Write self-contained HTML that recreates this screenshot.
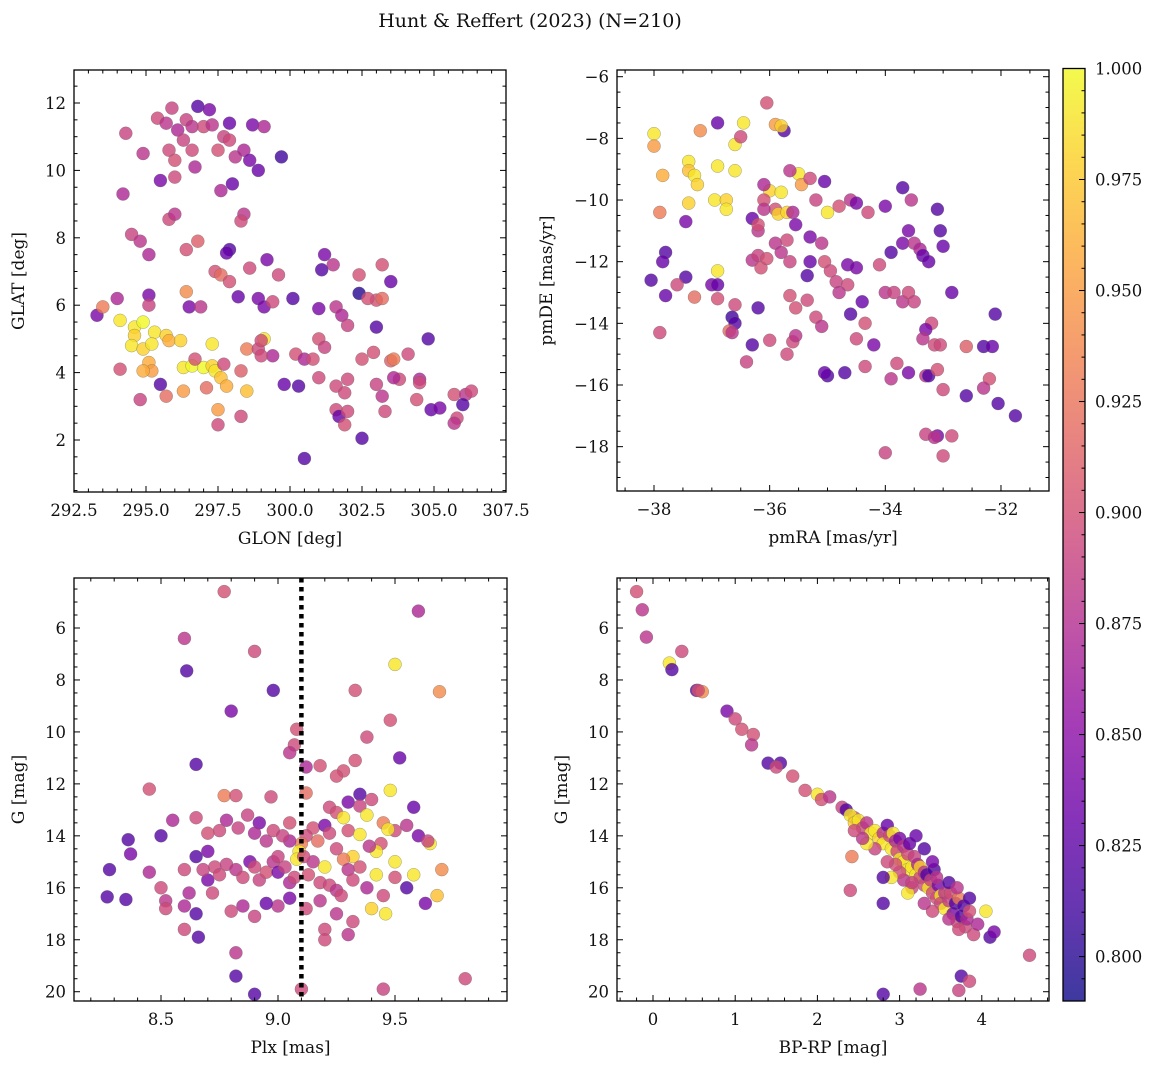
<!DOCTYPE html>
<html><head><meta charset="utf-8"><style>
html,body{margin:0;padding:0;background:#fff}
svg{display:block;font-family:"DejaVu Serif","Liberation Serif",serif}
</style></head><body>
<svg id="fig" width="1160" height="1068" viewBox="0 0 1160 1068" xmlns="http://www.w3.org/2000/svg">
<text x="530" y="27" font-size="19" text-anchor="middle" fill="#111">Hunt &amp; Reffert (2023) (N=210)</text>
</svg>
<script>
const p1Points=[[295.4,11.55,.895],[295.9,11.85,.89],[295.7,11.4,.88],[296.1,11.2,.87],[296.4,11.5,.89],[296.8,11.9,.82],[297.2,11.8,.84],[296.6,11.3,.88],[297.0,11.3,.895],[297.3,11.35,.88],[297.9,11.4,.83],[298.7,11.35,.84],[299.1,11.3,.87],[294.3,11.1,.89],[294.9,10.5,.88],[294.2,9.3,.87],[295.5,9.7,.84],[295.8,10.6,.895],[296.0,10.3,.9],[296.0,9.8,.895],[296.3,10.9,.89],[296.6,10.6,.895],[296.7,10.1,.87],[297.5,10.6,.9],[297.7,11.0,.89],[297.9,10.9,.895],[298.1,10.4,.88],[298.4,10.6,.87],[298.6,10.3,.84],[298.9,10.0,.83],[299.7,10.4,.81],[298.0,9.6,.83],[297.6,9.4,.87],[295.8,8.55,.895],[296.0,8.7,.88],[298.4,8.7,.88],[298.3,8.5,.895],[294.5,8.1,.89],[294.8,7.9,.88],[295.1,7.5,.87],[296.4,7.65,.9],[296.8,7.9,.91],[297.9,7.65,.82],[297.8,7.55,.83],[299.2,7.35,.84],[301.2,7.5,.84],[301.5,7.2,.88],[301.1,7.05,.82],[302.4,6.9,.9],[303.2,7.2,.9],[303.5,6.7,.83],[298.6,7.1,.895],[297.4,7.0,.9],[297.6,6.9,.92],[297.9,6.7,.9],[296.4,6.4,.94],[296.5,5.95,.84],[296.9,5.95,.88],[298.2,6.25,.83],[298.9,6.2,.84],[299.1,5.95,.84],[299.4,6.1,.895],[300.1,6.2,.82],[299.6,6.9,.895],[301.0,5.9,.84],[301.6,5.95,.88],[302.4,6.35,.8],[303.0,6.15,.9],[303.2,6.2,.92],[301.8,5.7,.87],[303.0,5.35,.82],[302.0,5.4,.89],[295.1,6.3,.84],[295.1,6.0,.89],[294.0,6.2,.87],[293.3,5.7,.84],[293.5,5.95,.93],[294.1,5.55,.99],[294.6,5.35,.99],[294.6,5.1,.98],[294.9,5.5,1.0],[295.3,5.2,.99],[295.7,5.1,.98],[295.8,4.95,.96],[296.2,4.95,.98],[294.5,4.8,.99],[294.9,4.7,.98],[295.2,4.85,.99],[295.1,4.3,.96],[295.2,4.05,.95],[294.9,4.05,.96],[296.3,4.15,.99],[296.6,4.2,1.0],[297.0,4.15,1.0],[297.3,4.2,.98],[297.4,4.05,.99],[297.6,3.85,.97],[297.8,3.6,.96],[297.3,4.85,.99],[296.7,4.4,.9],[296.3,3.45,.95],[297.1,3.55,.92],[297.7,4.25,.895],[298.3,4.05,.91],[298.5,4.7,.93],[298.9,4.7,.895],[299.1,5.0,.99],[299.0,4.95,.895],[299.4,4.5,.87],[299.0,4.5,.895],[298.5,3.45,.97],[297.5,2.9,.95],[297.5,2.45,.895],[298.3,2.7,.895],[295.5,3.65,.82],[295.7,3.3,.92],[294.1,4.1,.9],[294.8,3.2,.89],[299.8,3.65,.83],[300.2,4.55,.9],[300.5,4.4,.87],[300.8,4.4,.9],[301.0,5.0,.9],[301.2,4.75,.89],[300.3,3.6,.82],[301.0,3.85,.895],[301.6,3.6,.895],[302.0,3.8,.895],[301.9,3.4,.895],[301.6,2.9,.895],[301.7,2.7,.83],[302.0,2.85,.895],[301.9,2.45,.9],[302.5,2.05,.82],[303.0,3.65,.89],[302.9,4.6,.9],[302.5,4.4,.9],[303.2,3.3,.88],[303.3,2.85,.895],[303.5,4.35,.91],[303.6,4.4,.93],[303.8,3.8,.895],[303.6,3.85,.87],[304.1,4.55,.895],[304.5,3.8,.87],[304.4,3.2,.9],[304.5,3.7,.895],[304.9,2.9,.83],[305.2,2.95,.84],[304.8,5.0,.82],[305.7,3.35,.9],[305.8,2.65,.895],[305.7,2.5,.88],[306.1,3.35,.88],[306.3,3.45,.895],[306.0,3.05,.82],[300.5,1.45,.82],[302.7,6.2,.9]];
const p2Points=[[-38,-7.85,.99],[-38,-8.25,.95],[-37.85,-9.2,.96],[-37.4,-8.75,.99],[-37.4,-9.05,.97],[-37.3,-9.2,.99],[-37.25,-9.5,.98],[-37.4,-10.1,.98],[-37.2,-7.75,.94],[-36.9,-7.5,.83],[-36.6,-8.2,.99],[-36.45,-7.5,.99],[-36.5,-7.95,.895],[-36.05,-6.85,.9],[-35.9,-7.55,.95],[-35.75,-7.75,.82],[-35.8,-7.6,.98],[-35.5,-9.15,.99],[-35.65,-9.05,.88],[-35.45,-9.5,.95],[-35.3,-9.3,.895],[-35.05,-9.4,.83],[-36.9,-8.9,.99],[-36.95,-10.0,.99],[-36.75,-10.0,.98],[-36.75,-10.3,.99],[-36.6,-9.05,.99],[-36.0,-9.7,.98],[-35.8,-9.75,.99],[-35.9,-10.3,.9],[-35.85,-10.45,.98],[-35.7,-10.4,.98],[-35.6,-10.4,.87],[-36.1,-9.5,.87],[-36.1,-10.0,.9],[-36.1,-10.3,.88],[-35.2,-10.0,.89],[-35.0,-10.4,.99],[-34.8,-10.2,.9],[-34.6,-10.0,.88],[-34.5,-10.1,.84],[-34.3,-10.4,.895],[-34.0,-10.2,.84],[-33.7,-9.6,.82],[-33.55,-10.0,.88],[-33.1,-10.3,.82],[-33.05,-11.0,.82],[-33.0,-11.5,.83],[-37.9,-10.4,.93],[-37.45,-10.7,.84],[-37.8,-11.7,.82],[-37.85,-12.0,.83],[-38.05,-12.6,.82],[-37.45,-12.5,.82],[-37.6,-12.75,.895],[-37.0,-12.75,.84],[-36.9,-12.3,.99],[-37.8,-13.1,.83],[-37.3,-13.15,.92],[-36.9,-13.2,.9],[-36.6,-13.4,.895],[-36.65,-13.8,.81],[-36.6,-14.0,.82],[-36.7,-14.25,.92],[-36.65,-14.3,.88],[-36.3,-14.7,.82],[-36.4,-15.25,.89],[-37.9,-14.3,.895],[-36.3,-11.95,.88],[-36.2,-11.8,.89],[-36.15,-12.2,.9],[-36.05,-11.9,.9],[-36.2,-11.0,.88],[-36.3,-10.6,.83],[-36.2,-10.8,.9],[-35.9,-11.4,.88],[-35.8,-11.7,.88],[-35.65,-12.0,.89],[-35.7,-11.3,.895],[-35.55,-10.8,.84],[-35.3,-11.2,.84],[-35.1,-11.4,.88],[-35.3,-12.0,.83],[-35.35,-12.45,.82],[-35.05,-12.0,.9],[-34.95,-12.3,.895],[-34.85,-12.65,.89],[-34.65,-12.75,.895],[-34.65,-12.1,.84],[-34.5,-12.2,.84],[-34.1,-12.1,.895],[-33.9,-11.7,.82],[-33.7,-11.4,.84],[-33.6,-11.0,.84],[-33.5,-11.4,.88],[-33.4,-11.6,.87],[-33.35,-11.8,.83],[-33.25,-12.0,.83],[-35.65,-13.1,.9],[-35.35,-13.25,.895],[-35.2,-13.8,.895],[-35.55,-13.5,.9],[-35.6,-14.6,.895],[-35.55,-14.4,.88],[-35.1,-14.1,.88],[-35.0,-15.7,.82],[-35.05,-15.6,.83],[-34.7,-15.6,.82],[-34.35,-15.4,.895],[-33.8,-15.3,.895],[-33.9,-15.8,.88],[-33.6,-15.6,.84],[-33.3,-15.7,.88],[-33.25,-15.7,.82],[-34.0,-13.0,.88],[-33.85,-13.0,.89],[-33.7,-13.3,.88],[-33.6,-13.0,.895],[-33.5,-13.3,.89],[-34.6,-13.7,.82],[-34.4,-13.3,.83],[-34.8,-13.0,.88],[-33.2,-14.0,.895],[-33.15,-14.7,.895],[-33.3,-14.2,.84],[-33.35,-14.5,.88],[-33.05,-14.7,.895],[-33.1,-15.5,.9],[-33.0,-16.15,.895],[-32.85,-13.0,.83],[-32.6,-14.75,.91],[-32.6,-16.35,.82],[-32.3,-14.75,.82],[-32.2,-15.8,.9],[-32.3,-16.1,.88],[-32.15,-14.75,.83],[-32.1,-13.7,.82],[-32.05,-16.6,.82],[-31.75,-17.0,.82],[-33.3,-17.6,.89],[-33.1,-17.65,.84],[-33.15,-17.7,.88],[-32.85,-17.65,.895],[-33.0,-18.3,.895],[-34.0,-18.2,.89],[-34.35,-14.0,.9],[-34.5,-14.5,.895],[-34.2,-14.7,.84],[-35.7,-15.0,.895],[-36.0,-14.55,.895],[-36.2,-13.5,.82],[-36.9,-12.75,.83]];
const p3Points=[[8.77,4.6,.9],[8.6,6.4,.88],[9.6,5.35,.87],[8.61,7.65,.82],[8.9,6.9,.895],[8.98,8.4,.82],[9.5,7.4,.99],[9.69,8.45,.94],[9.33,8.4,.9],[8.8,9.2,.84],[9.08,9.9,.9],[9.48,9.55,.9],[9.07,10.5,.895],[9.38,10.2,.895],[9.05,10.8,.88],[9.33,11.1,.9],[9.52,11.0,.83],[8.65,11.25,.82],[9.12,11.35,.87],[9.18,11.3,.9],[9.28,11.5,.9],[9.25,11.7,.9],[8.45,12.2,.9],[8.97,12.5,.895],[8.77,12.45,.93],[8.82,12.45,.9],[9.48,12.25,.99],[9.35,12.4,.82],[9.12,12.35,.92],[9.4,12.6,.895],[9.3,12.7,.84],[9.22,12.9,.895],[9.35,12.85,.89],[9.58,12.9,.83],[9.25,13.1,.9],[9.28,13.3,.99],[9.38,13.2,.99],[8.55,13.4,.87],[8.65,13.3,.895],[8.78,13.4,.87],[8.87,13.2,.89],[8.92,13.5,.84],[8.98,13.8,.895],[9.05,13.5,.9],[9.15,13.7,.9],[9.2,13.6,.84],[9.22,13.9,.895],[9.3,13.8,.9],[9.35,13.95,.99],[9.45,13.5,.93],[9.5,13.8,.895],[9.55,13.6,.88],[9.6,14.0,.84],[9.65,14.3,.99],[9.64,14.2,.89],[9.47,13.75,.99],[9.44,14.3,.9],[9.42,14.6,.99],[9.39,14.4,.88],[9.32,14.8,.98],[9.28,14.9,.93],[9.25,14.5,.895],[9.17,14.2,.92],[9.12,14.0,.895],[9.1,14.3,.93],[9.09,14.6,.99],[9.08,14.9,.99],[9.05,14.2,.87],[9.02,14.0,.89],[8.95,14.2,.88],[8.9,13.9,.87],[8.83,13.7,.89],[8.75,13.8,.895],[8.7,13.9,.9],[8.7,14.6,.84],[8.65,14.8,.82],[8.6,15.3,.895],[8.5,14.0,.82],[8.36,14.15,.82],[8.37,14.7,.84],[8.28,15.3,.82],[8.45,15.4,.87],[8.5,16.0,.895],[8.52,16.5,.88],[8.52,16.8,.895],[8.35,16.45,.82],[8.27,16.35,.82],[8.6,16.7,.87],[8.62,16.2,.87],[8.7,15.7,.84],[8.65,17.0,.82],[8.6,17.6,.895],[8.66,17.9,.82],[8.73,15.2,.895],[8.75,15.5,.895],[8.78,15.1,.89],[8.82,15.3,.88],[8.85,15.6,.895],[8.88,15.0,.84],[8.9,15.2,.895],[8.92,15.7,.89],[8.95,15.4,.9],[8.98,15.0,.88],[9.0,15.4,.84],[9.03,15.2,.89],[9.05,15.8,.87],[9.07,15.6,.895],[9.13,15.5,.9],[9.15,15.0,.88],[9.18,15.8,.895],[9.2,15.2,.99],[9.22,15.9,.895],[9.25,16.1,.88],[9.27,16.3,.895],[9.3,15.3,.88],[9.32,15.7,.895],[9.35,15.2,.9],[9.38,16.0,.87],[9.42,15.5,.99],[9.45,16.3,.895],[9.5,15.0,.99],[9.5,15.6,.9],[9.55,16.0,.82],[9.58,15.5,.99],[9.63,16.6,.84],[9.68,16.3,.97],[9.7,15.3,.94],[9.46,17.0,.99],[9.4,16.8,.98],[9.32,17.3,.895],[9.25,17.0,.88],[9.18,16.5,.88],[9.12,16.8,.895],[9.05,16.4,.84],[9.0,16.7,.88],[8.95,16.6,.83],[8.85,16.7,.87],[8.8,16.9,.895],[8.9,17.1,.89],[9.2,17.6,.895],[9.3,17.8,.88],[9.2,18.0,.895],[8.82,18.5,.88],[8.82,19.4,.82],[8.9,20.1,.82],[9.1,19.9,.895],[9.45,19.9,.89],[9.8,19.5,.895],[9.0,14.8,.89],[9.11,14.8,.895],[8.68,15.3,.89],[8.72,16.2,.895]];
const p4Points=[[-0.2,4.6,.9],[-0.13,5.3,.88],[-0.08,6.35,.88],[0.2,7.35,.99],[0.35,6.9,.895],[0.23,7.6,.82],[0.53,8.4,.82],[0.6,8.45,.94],[0.55,8.4,.9],[0.9,9.2,.84],[1.0,9.5,.895],[1.08,9.9,.9],[1.22,10.1,.9],[1.2,10.5,.88],[1.4,11.2,.82],[1.55,11.2,.82],[1.5,11.35,.895],[1.7,11.7,.9],[1.85,12.25,.9],[2.0,12.4,.99],[2.05,12.6,.9],[2.15,12.5,.88],[2.3,12.9,.89],[2.35,13.0,.82],[2.45,13.3,.9],[2.4,13.2,.99],[2.45,13.5,.98],[2.5,13.4,.99],[2.55,13.7,.895],[2.6,13.5,.88],[2.65,13.9,.99],[2.7,13.8,.99],[2.75,14.1,.98],[2.8,13.9,.88],[2.8,14.3,.99],[2.85,13.6,.83],[2.88,14.0,.895],[2.9,14.5,.99],[2.92,13.9,.99],[2.95,14.2,.87],[2.97,14.6,.895],[3.0,14.9,.99],[3.0,14.1,.84],[3.05,14.4,.88],[3.05,15.0,.99],[3.1,14.7,.895],[3.1,15.3,.99],[3.12,14.3,.83],[3.15,15.2,.99],[3.18,14.8,.89],[3.2,15.5,.99],[3.22,15.1,.87],[3.25,15.6,.895],[3.25,15.2,.98],[3.3,15.4,.88],[3.3,15.9,.895],[3.33,15.5,.82],[3.35,16.0,.99],[3.38,15.7,.89],[3.4,16.2,.895],[3.42,15.3,.82],[3.45,16.4,.9],[3.47,15.9,.84],[3.5,16.3,.99],[3.5,16.6,.895],[3.55,16.2,.88],[3.55,16.8,.99],[3.6,16.5,.89],[3.62,16.2,.9],[3.65,17.0,.84],[3.68,16.6,.82],[3.7,17.3,.895],[3.72,16.4,.93],[3.75,17.1,.82],[3.78,16.7,.82],[3.8,17.5,.895],[3.82,17.2,.87],[3.85,16.4,.82],[3.9,17.8,.895],[3.95,17.4,.87],[3.72,17.6,.895],[3.6,17.2,.88],[3.4,16.9,.895],[3.3,16.6,.88],[3.15,16.0,.895],[3.05,15.7,.88],[3.0,15.4,.895],[2.9,15.6,.99],[2.8,15.6,.82],[2.95,15.1,.9],[2.85,15.0,.895],[2.7,14.5,.89],[2.6,14.3,.99],[2.55,14.1,.88],[2.45,13.8,.895],[2.42,14.8,.93],[2.4,16.1,.895],[2.8,16.6,.82],[3.2,14.0,.83],[3.3,14.5,.82],[3.4,15.0,.84],[3.45,15.6,.88],[3.6,15.8,.82],[3.7,16.0,.88],[3.85,16.9,.9],[4.05,16.9,.99],[4.1,17.9,.82],[4.15,17.7,.84],[4.58,18.6,.895],[3.75,19.4,.82],[3.85,19.6,.895],[3.72,19.95,.89],[3.25,19.9,.88],[2.8,20.1,.82],[3.1,16.2,.99],[3.15,15.8,.89]];
const p1XTicks=[292.5,295.0,297.5,300.0,302.5,305.0,307.5];
const p1YTicks=[2,4,6,8,10,12];
const p2XTicks=[-38,-36,-34,-32];
const p2YTicks=[-6,-8,-10,-12,-14,-16,-18];
const p3XTicks=[8.5,9.0,9.5];
const gYTicks=[6,8,10,12,14,16,18,20];
const p4XTicks=[0,1,2,3,4];
const cbarTicks=[0.800,0.825,0.850,0.875,0.900,0.925,0.950,0.975,1.000];
const plxCut=[9.1];
const cmin=0.79,cmax=1.0;

const NS="http://www.w3.org/2000/svg";
const fig=document.getElementById('fig');
const plasma=[[13,8,135],[65,4,157],[106,0,168],[143,13,164],[177,42,144],[204,71,120],[225,100,98],[242,132,75],[252,166,54],[252,206,37],[240,249,33]];
function cmap(v){let t=(v-cmin)/(cmax-cmin);t=Math.max(0,Math.min(1,t))*10;const i=Math.min(9,Math.floor(t)),f=t-i;const a=plasma[i],b=plasma[i+1];return 'rgb('+a.map((x,k)=>Math.round(x+(b[k]-x)*f)).join(',')+')';}
function mk(tag,attrs,parent){const e=document.createElementNS(NS,tag);for(const k in attrs)e.setAttribute(k,attrs[k]);(parent||fig).appendChild(e);return e;}
function fmt(v,d){return (v<0?'\u2212':'')+Math.abs(v).toFixed(d);}

function panel(o){
  const g=mk('g',{});
  
  
  const sx=v=>o.L+(v-o.x0)/(o.x1-o.x0)*(o.R-o.L);
  const sy=v=>o.T+(v-o.y0)/(o.y1-o.y0)*(o.B-o.T);
  const clip='clip-'+o.name;
  const cp=mk('clipPath',{id:clip},g);mk('rect',{x:o.L,y:o.T,width:o.R-o.L,height:o.B-o.T},cp);
  const pg=mk('g',{'clip-path':'url(#'+clip+')'},g);
  
  
  for(const p of o.pts){
    const c=mk('circle',{cx:sx(p[0]).toFixed(1),cy:sy(p[1]).toFixed(1),r:6.5,fill:cmap(p[2]),'fill-opacity':0.8,stroke:'#666','stroke-opacity':0.6,'stroke-width':0.5},pg);
    
    
  }
  if(o.vline){for(const v of o.vline){const l=mk('line',{x1:sx(v),x2:sx(v),y1:o.T,y2:o.B,stroke:'#000','stroke-width':4.5,'stroke-dasharray':'4.5,4.5'},pg);
    
    }}
  const tg=mk('g',{stroke:'#000','stroke-width':1},g);
  const lo=Math.min(o.x0,o.x1),hi=Math.max(o.x0,o.x1);
  for(let v=Math.ceil(lo/o.xmin-1e-6)*o.xmin;v<=hi+1e-9;v+=o.xmin){const x=sx(v);const maj=o.xt.some(t=>Math.abs(t-v)<1e-6);const len=maj?6:3.5;
    mk('line',{x1:x,x2:x,y1:o.B,y2:o.B-len},tg);mk('line',{x1:x,x2:x,y1:o.T,y2:o.T+len},tg);}
  const ylo=Math.min(o.y0,o.y1),yhi=Math.max(o.y0,o.y1);
  for(let v=Math.ceil(ylo/o.ymin-1e-6)*o.ymin;v<=yhi+1e-9;v+=o.ymin){const y=sy(v);const maj=o.yt.some(t=>Math.abs(t-v)<1e-6);const len=maj?6:3.5;
    mk('line',{x1:o.L,x2:o.L+len,y1:y,y2:y},tg);mk('line',{x1:o.R,x2:o.R-len,y1:y,y2:y},tg);}
  for(const t of o.xt){const e=mk('text',{x:sx(t),y:o.B+24,'font-size':16.5,'text-anchor':'middle',fill:'#111'},g);e.textContent=fmt(t,o.xd);
    
    }
  for(const t of o.yt){const e=mk('text',{x:o.L-8,y:sy(t)+6,'font-size':16.5,'text-anchor':'end',fill:'#111'},g);e.textContent=fmt(t,0);
    
    }
  mk('rect',{x:o.L,y:o.T,width:o.R-o.L,height:o.B-o.T,fill:'none',stroke:'#000','stroke-width':1.3},g);
  const xl=mk('text',{x:(o.L+o.R)/2,y:o.B+52,'font-size':17,'text-anchor':'middle',fill:'#111'},g);xl.textContent=o.xlab;
  
  
  const yx=o.ylx, yy=(o.T+o.B)/2;
  const yl=mk('text',{x:yx,y:yy,'font-size':17,'text-anchor':'middle',fill:'#111',transform:'rotate(-90 '+yx+' '+yy+')'},g);yl.textContent=o.ylab;
  
  
}
panel({name:'glon-glat-panel',L:74,R:506,T:70,B:492,x0:292.5,x1:307.5,y0:12+33/33.7,y1:12-389/33.7,pts:p1Points,xt:p1XTicks,yt:p1YTicks,xmin:0.5,ymin:0.5,xd:1,xlab:'GLON [deg]',ylab:'GLAT [deg]',ylx:24});
panel({name:'proper-motion-panel',L:617,R:1049,T:70,B:491,x0:-38-(654-617)/57.83,x1:-38+(1049-654)/57.83,y0:-6+(76.7-70)/30.83,y1:-6-(491-76.7)/30.83,pts:p2Points,xt:p2XTicks,yt:p2YTicks,xmin:0.5,ymin:0.5,xd:0,xlab:'pmRA [mas/yr]',ylab:'pmDE [mas/yr]',ylx:552});
panel({name:'parallax-magnitude-panel',L:74,R:507,T:578,B:1001,x0:8.5-(161-74)/234,x1:8.5+(507-161)/234,y0:6-(628-578)/25.98,y1:6+(1001-628)/25.98,pts:p3Points,xt:p3XTicks,yt:gYTicks,xmin:0.1,ymin:0.5,xd:1,xlab:'Plx [mas]',ylab:'G [mag]',ylx:24,vline:plxCut});
panel({name:'color-magnitude-panel',L:617,R:1049,T:578,B:1001,x0:-(653-617)/82.2,x1:(1049-653)/82.2,y0:6-(628-578)/25.98,y1:6+(1001-628)/25.98,pts:p4Points,xt:p4XTicks,yt:gYTicks,xmin:0.2,ymin:0.5,xd:0,xlab:'BP-RP [mag]',ylab:'G [mag]',ylx:567});
(function(){
  const L=1063,R=1085,T=68.5,B=1001;
  const sc=v=>T+(cmax-v)/(cmax-cmin)*(B-T);
  const g=mk('g',{});
  
  
  const defs=mk('defs',{},g);
  const lg=mk('linearGradient',{id:'cbg',x1:0,y1:1,x2:0,y2:0},defs);
  plasma.forEach((c,i)=>mk('stop',{offset:i/10,'stop-color':'rgb('+c.join(',')+')'},lg));
  mk('rect',{x:L,y:T,width:R-L,height:B-T,fill:'url(#cbg)','fill-opacity':0.8},g);
  for(let k=0;k<=42;k++){const v=cmin+k*0.005;if(v>cmax+1e-9)break;const y=sc(v);const maj=cbarTicks.some(t=>Math.abs(t-v)<1e-6);
    mk('line',{x1:R,x2:R-(maj?6:3.5),y1:y,y2:y,stroke:'#000','stroke-width':1},g);}
  for(const t of cbarTicks){const e=mk('text',{x:R+10,y:sc(t)+6,'font-size':16.5,fill:'#111'},g);e.textContent=t.toFixed(3);
    
    }
  mk('rect',{x:L,y:T,width:R-L,height:B-T,fill:'none',stroke:'#000','stroke-width':1.3},g);
})();
</script>
</body></html>
